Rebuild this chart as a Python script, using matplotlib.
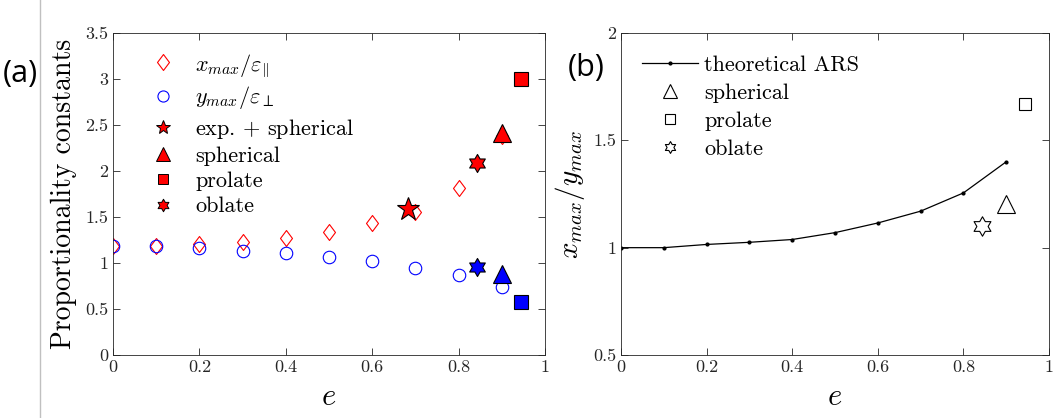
import numpy as np
import matplotlib
matplotlib.use('Agg')
import matplotlib.pyplot as plt
from matplotlib.lines import Line2D
from matplotlib.path import Path

# ---- data ----
e = [0, 0.1, 0.2, 0.3, 0.4, 0.5, 0.6, 0.7, 0.8, 0.9]
x_over_eps = [1.19, 1.19, 1.21, 1.23, 1.27, 1.34, 1.43, 1.55, 1.82, 2.38]
y_over_eps = [1.19, 1.18, 1.16, 1.13, 1.11, 1.07, 1.02, 0.95, 0.87, 0.74]

e_exp = [0.683]
x_exp = [1.59]
e_sph = [0.9]
x_sph = [2.41]
y_sph = [0.88]
e_pro = [0.944]
x_pro = [3.0]
y_pro = [0.58]
e_obl = [0.843]
x_obl = [2.09]
y_obl = [0.96]

ars = [1.0, 1.0, 1.015, 1.025, 1.038, 1.07, 1.115, 1.17, 1.255, 1.40]
ratio_sph = [1.205]
ratio_pro = [1.67]
ratio_obl = [1.10]

xticks = [0, 0.2, 0.4, 0.6, 0.8, 1]
xticklabels = ['0', '0.2', '0.4', '0.6', '0.8', '1']
yticks_a = [0, 0.5, 1, 1.5, 2, 2.5, 3, 3.5]
yticklabels_a = ['0', '0.5', '1', '1.5', '2', '2.5', '3', '3.5']
yticks_b = [0.5, 1, 1.5, 2]
yticklabels_b = ['0.5', '1', '1.5', '2']

plt.rcParams['font.family'] = 'serif'
plt.rcParams['font.serif'] = ['cmr10']
plt.rcParams['mathtext.fontset'] = 'cm'
plt.rcParams['axes.unicode_minus'] = False

# hexagram marker (six-pointed star) and a MATLAB-like diamond
ang = np.pi / 2 + np.arange(12) * np.pi / 6
rad = np.where(np.arange(12) % 2 == 0, 1.0, 1 / np.sqrt(3))
hv = np.column_stack([rad * np.cos(ang), rad * np.sin(ang)])
hexa = Path(np.vstack([hv, hv[:1]]), closed=True)
diam = Path([(0, 1), (0.75, 0), (0, -1), (-0.75, 0), (0, 1)], closed=True)

fig = plt.figure(figsize=(10.58, 4.18), dpi=100)
ax1 = fig.add_axes([113 / 1058, 63 / 418, 432 / 1058, 322 / 418])
ax2 = fig.add_axes([621 / 1058, 63 / 418, 428 / 1058, 322 / 418])

red = '#ff0000'
blue = '#0000ff'

# panel (a)
ax1.plot(e, x_over_eps, marker=diam, ls='none', ms=11.5, mfc='none', mec=red, mew=0.8)
ax1.plot(e, y_over_eps, 'o', ms=9, mfc='none', mec=blue, mew=0.8)
ax1.plot(e_exp, x_exp, '*', ms=17, mfc=red, mec='k', mew=0.8)
ax1.plot(e_sph, x_sph, '^', ms=13, mfc=red, mec='k', mew=0.8)
ax1.plot(e_sph, y_sph, '^', ms=13, mfc=blue, mec='k', mew=0.8)
ax1.plot(e_pro, x_pro, 's', ms=9.5, mfc=red, mec='k', mew=0.8)
ax1.plot(e_pro, y_pro, 's', ms=9.5, mfc=blue, mec='k', mew=0.8)
ax1.plot(e_obl, x_obl, marker=hexa, ls='none', ms=13, mfc=red, mec='k', mew=0.8)
ax1.plot(e_obl, y_obl, marker=hexa, ls='none', ms=13, mfc=blue, mec='k', mew=0.8)

leg_a = [
    Line2D([], [], marker=diam, ls='none', ms=11.5, mfc='none', mec=red, mew=0.8),
    Line2D([], [], marker='o', ls='none', ms=8, mfc='none', mec=blue, mew=0.8),
    Line2D([], [], marker='*', ls='none', ms=10, mfc=red, mec='k', mew=0.7),
    Line2D([], [], marker='^', ls='none', ms=10, mfc=red, mec='k', mew=0.7),
    Line2D([], [], marker='s', ls='none', ms=7, mfc=red, mec='k', mew=0.7),
    Line2D([], [], marker=hexa, ls='none', ms=9, mfc=red, mec='k', mew=0.7),
]
labels_a = [r'$x_{max}/\varepsilon_{\|}$', r'$y_{max}/\varepsilon_{\perp}$',
            r'exp. $+$ spherical', 'spherical', 'prolate', 'oblate']

ax1.set_xlim(0, 1)
ax1.set_ylim(0, 3.5)
ax1.set_xticks(xticks)
ax1.set_xticklabels(xticklabels)
ax1.set_yticks(yticks_a)
ax1.set_yticklabels(yticklabels_a)
ax1.set_xlabel(r'$e$', fontsize=22, labelpad=6)
ax1.set_ylabel('Proportionality constants', fontsize=20, labelpad=6)
ax1.legend(leg_a, labels_a, loc='upper left', bbox_to_anchor=(0.09, 0.94),
           borderaxespad=0, borderpad=0, frameon=False, fontsize=16,
           handletextpad=0.95, labelspacing=0.25, handlelength=1.0)

# panel (b)
ax2.plot(e, ars, '-', color='k', lw=0.9, marker='.', ms=4)
ax2.plot(e_sph, ratio_sph, '^', ms=13, mfc='white', mec='k', mew=0.8)
ax2.plot(e_pro, ratio_pro, 's', ms=9, mfc='white', mec='k', mew=0.8)
ax2.plot(e_obl, ratio_obl, marker=hexa, ls='none', ms=14, mfc='white', mec='k', mew=0.8)

leg_b = [
    Line2D([], [], color='k', lw=0.9, marker='.', ms=4),
    Line2D([], [], marker='^', ls='none', ms=10.5, mfc='white', mec='k', mew=0.8),
    Line2D([], [], marker='s', ls='none', ms=7, mfc='white', mec='k', mew=0.8),
    Line2D([], [], marker=hexa, ls='none', ms=8.5, mfc='white', mec='k', mew=0.8),
]
labels_b = ['theoretical ARS', 'spherical', 'prolate', 'oblate']

ax2.set_xlim(0, 1)
ax2.set_ylim(0.5, 2)
ax2.set_xticks(xticks)
ax2.set_xticklabels(xticklabels)
ax2.set_yticks(yticks_b)
ax2.set_yticklabels(yticklabels_b)
ax2.set_xlabel(r'$e$', fontsize=22, labelpad=6)
ax2.set_ylabel(r'$x_{max}/y_{max}$', fontsize=21, labelpad=4)
ax2.legend(leg_b, labels_b, loc='upper left', bbox_to_anchor=(0.049, 0.93),
           borderaxespad=0, borderpad=0, frameon=False, fontsize=16,
           handletextpad=0.3, labelspacing=0.38, handlelength=2.5)

for ax in (ax1, ax2):
    ax.tick_params(direction='in', top=True, right=True, labelsize=13, length=5, width=0.6,
                   colors='#262626')
    for s in ax.spines.values():
        s.set_color('#262626')
        s.set_linewidth(0.6)

fig.text(3 / 1058, 1 - 74 / 418, '(a)', fontsize=22, family='Open Sans', va='center')
fig.text(568 / 1058, 1 - 68 / 418, '(b)', fontsize=22, family='Open Sans', va='center')
fig.add_artist(Line2D([40 / 1058, 40 / 1058], [0, 1], color='#c0c0c0', lw=1))

fig.savefig('out.png', dpi=100)
